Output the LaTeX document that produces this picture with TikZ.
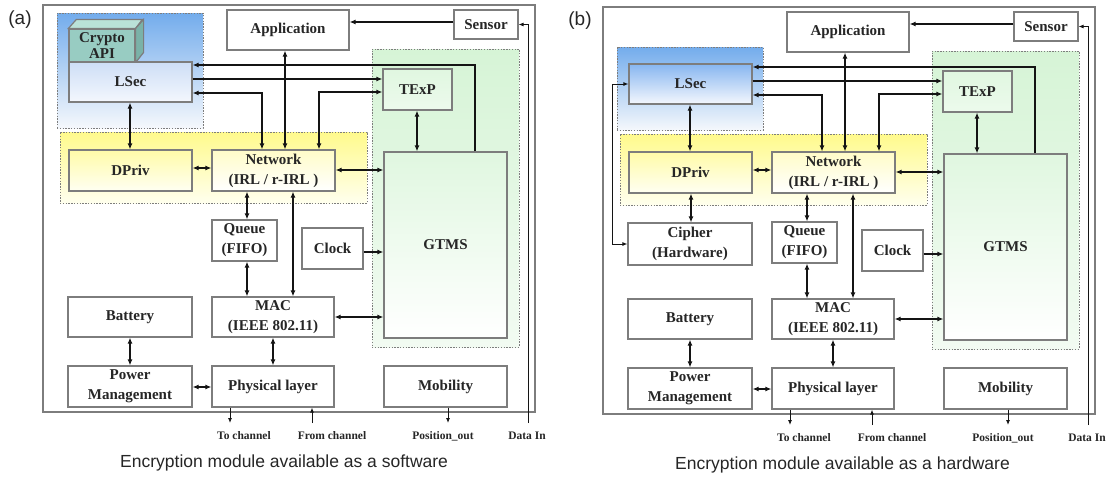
\documentclass[tikz,border=0pt]{standalone}
\usepackage{fontspec}
\setmainfont{Liberation Serif}
\newfontfamily\capfont{Liberation Sans}
\usetikzlibrary{arrows.meta}

\definecolor{edge}{RGB}{125,125,125}
\definecolor{ink}{RGB}{20,20,20}
\definecolor{secA}{RGB}{115,172,236}
\definecolor{secB}{RGB}{245,248,252}
\definecolor{lsecA}{RGB}{205,222,246}
\definecolor{lsecHw}{RGB}{135,182,240}
\definecolor{lsecB}{RGB}{244,247,253}
\definecolor{yelA}{RGB}{255,250,140}
\definecolor{yelB}{RGB}{255,255,238}
\definecolor{dpA}{RGB}{255,251,168}
\definecolor{dpB}{RGB}{255,255,242}
\definecolor{nwA}{RGB}{255,252,200}
\definecolor{grnA}{RGB}{214,244,214}
\definecolor{grnB}{RGB}{242,251,242}
\definecolor{gtA}{RGB}{224,247,224}
\definecolor{cubeF}{RGB}{152,204,194}
\definecolor{cubeT}{RGB}{186,226,216}
\definecolor{cubeS}{RGB}{122,178,168}

\newcommand\boxfont{\bfseries\fontsize{15}{20}\selectfont}
\newcommand\lblfont{\bfseries\fontsize{11.5}{13}\selectfont}

\tikzset{
  >={Latex[length=6pt,width=5pt]},
  box/.style={draw=edge, line width=1.2pt, fill=white, font=\boxfont,
    align=center, inner sep=0pt, text=black!85},
  region/.style={draw=edge, line width=1pt, dash pattern=on 1.4pt off 1.4pt,
    inner sep=0pt},
  frame/.style={draw=edge, line width=1.3pt, inner sep=0pt},
  conn/.style={draw=ink, line width=1.8pt},
  thinconn/.style={draw=ink, line width=0.9pt,
    >={Latex[length=5pt,width=4pt]}},
  lbl/.style={font=\lblfont, text=black!85, inner sep=0pt},
  captext/.style={font=\capfont\fontsize{17.5}{20}\selectfont, text=black!85,
    inner sep=0pt},
  tagtext/.style={captext, font=\capfont\fontsize{19}{20}\selectfont},
}

% box given by its corners: [style]{name}{x1}{y1}{x2}{y2}{text}
\newcommand\bx[7][]{%
  \node[box,#1,minimum width={(#5-#3)*1pt},minimum height={(#6-#4)*1pt}]
    (#2) at ({(#3+#5)/2},{(#4+#6)/2}) {#7};}

% the node stack shared by both variants
% #1 name prefix, #2 top of the security zone, #3 zone colour,
% #4 LSec colour, #5 extra drawing under the boxes
\newcommand\stack[5]{%
  \bx[frame]{#1frame}{43}{5}{535}{412}{}
  \bx[region,top color=#3,bottom color=secB]{#1seczone}{57}{#2}{203}{128}{}
  \bx[region,top color=yelA,bottom color=yelB]{#1privzone}{60}{132}{367}{203}{}
  \bx[region,top color=grnA,bottom color=grnB]{#1timezone}{372}{49}{519}{347}{}
  #5
  \bx{#1app}{227}{10}{349}{50}{Application}
  \bx{#1sensor}{454}{10}{518}{39}{Sensor}
  \bx[top color=#4,bottom color=lsecB]{#1lsec}{69}{62}{192}{102}{LSec}
  \bx[top color=dpA,bottom color=dpB]{#1dpriv}{69}{150}{192}{191}{DPriv}
  \bx[top color=nwA,bottom color=white]{#1net}{212}{150}{335}{191}{Network\\(IRL / r-IRL )}
  \bx[top color=gtA,bottom color=gtA!60!white]{#1texp}{383}{69}{452}{110}{TExP}
  \bx[top color=gtA,bottom color=white]{#1gtms}{384}{152}{507}{338}{GTMS}
  \bx{#1queue}{212}{220}{277}{261}{Queue\\(FIFO)}
  \bx{#1clock}{302}{228}{363}{269}{Clock}
  \bx{#1mac}{212}{297}{334}{337}{MAC\\(IEEE 802.11)}
  \bx{#1bat}{68}{297}{192}{337}{Battery}
  \bx{#1pwr}{68}{366}{192}{407}{Power\\Management}
  \bx{#1phy}{212}{366}{334}{407}{Physical layer}
  \bx{#1mob}{384}{366}{507}{407}{Mobility}
  % links between the blocks
  \draw[conn,->] (#1sensor.west |- 0,22) -- (#1app.east |- 0,22);
  \draw[conn,->] (#1gtms.north -| 475,0) |- (#1lsec.east |- 0,65);
  \draw[conn,->] (#1lsec.east |- 0,79) -- (#1texp.west |- 0,79);
  \draw[conn,<->] (#1lsec.east |- 0,93) -| (#1net.north -| 262,0);
  \draw[conn,<->] (#1net.north -| 319,0) |- (#1texp.west |- 0,92);
  \draw[conn,<->] (#1app.south -| 285,0) -- (#1net.north -| 285,0);
  \draw[conn,<->] (#1net.south -| 293,0) -- (#1mac.north -| 293,0);
  \draw[conn,<->] (#1lsec.south -| 130,0) -- (#1dpriv.north -| 130,0);
  \draw[conn,<->] (#1dpriv.east |- 0,168) -- (#1net.west |- 0,168);
  \draw[conn,<->] (#1net.east |- 0,170) -- (#1gtms.west |- 0,170);
  \draw[conn,<->] (#1texp.south -| 417,0) -- (#1gtms.north -| 417,0);
  \draw[conn,<->] (#1net.south -| 247,0) -- (#1queue.north -| 247,0);
  \draw[conn,<->] (#1queue.south -| 247,0) -- (#1mac.north -| 247,0);
  \draw[conn,->] (#1clock.east |- 0,252) -- (#1gtms.west |- 0,252);
  \draw[conn,<->] (#1mac.east |- 0,317) -- (#1gtms.west |- 0,317);
  \draw[conn,<->] (#1mac.south -| 273,0) -- (#1phy.north -| 273,0);
  \draw[conn,<->] (#1bat.south -| 130,0) -- (#1pwr.north -| 130,0);
  \draw[conn,<->] (#1pwr.east |- 0,387) -- (#1phy.west |- 0,387);
  % external inputs and outputs
  \node[lbl] (#1tochan) at (244,436) {To channel};
  \node[lbl] (#1fromchan) at (332,436) {From channel};
  \node[lbl] (#1posout) at (443,436) {Position\_out};
  \node[lbl] (#1datain) at (527,436) {Data In};
  \coordinate (#1tc) at (230,423);
  \coordinate (#1fc) at (312,423);
  \coordinate (#1po) at (448,423);
  \coordinate (#1di) at (528,423);
  \draw[thinconn,->] (#1phy.south -| #1tc) -- (#1tc);
  \draw[thinconn,->] (#1fc) -- (#1phy.south -| #1fc);
  \draw[thinconn,->] (#1mob.south -| #1po) -- (#1po);
  \draw[thinconn,->] (#1di) |- (#1sensor.east);
}

% the Crypto API block drawn as a small cube
\newcommand\cryptocube{%
  \bx[fill=cubeF,font=\bfseries\fontsize{15}{16}\selectfont]{acrypto}{69}{29}{135}{62}{Crypto\\API}
  \draw[draw=edge,line width=1.2pt,fill=cubeT]
    (acrypto.north west) -- ++(8,-9) -- ++(66,0) -- (acrypto.north east) -- cycle;
  \draw[draw=edge,line width=1.2pt,fill=cubeS]
    (acrypto.north east) -- ++(8,-9) -- ++(0,33) -- (acrypto.south east) -- cycle;
}

\begin{document}
\begin{tikzpicture}[x=1pt,y=-1pt]
  \useasboundingbox[fill=white] (0,0) rectangle (1107,477);

  % (a) encryption in software
  \node[tagtext] (taga) at (20,20) {(a)};
  \stack{a}{13}{secA}{lsecA}{\cryptocube}
  \node[captext,anchor=base west] (capa) at (120,467)
    {Encryption module available as a software};

  % (b) encryption in hardware
  \node[tagtext] (tagb) at (580,21) {(b)};
  \begin{scope}[shift={(560,2)}]
    \stack{b}{45}{secA}{lsecHw}{}
    \bx{bcipher}{68}{221}{192}{263}{Cipher\\(Hardware)}
    \draw[conn,<->] (bdpriv.south -| 131,0) -- (bcipher.north -| 131,0);
    \coordinate (bloop) at (52,82);
    \draw[thinconn,<->] (blsec.west |- bloop) -- (bloop) |- (bcipher.west |- 0,242);
  \end{scope}
  \node[captext,anchor=base west] (capb) at (675,469)
    {Encryption module available as a hardware};
\end{tikzpicture}
\end{document}
